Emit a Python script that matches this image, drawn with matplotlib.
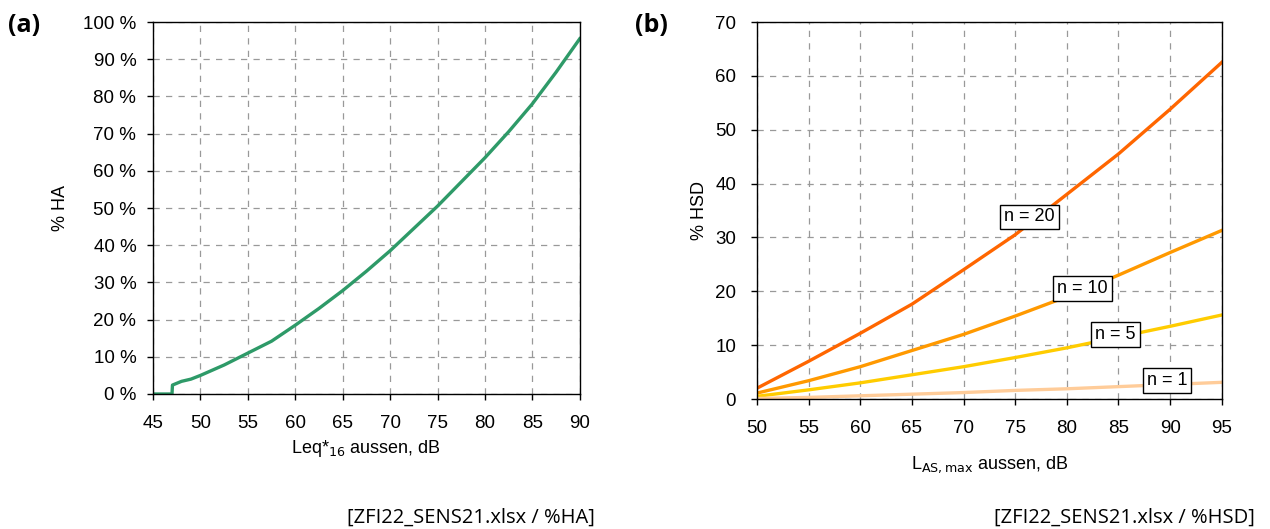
import matplotlib.pyplot as plt
from matplotlib.ticker import FuncFormatter

# (a) %HA vs Leq*16
leq = [45, 46, 47, 47.05, 48, 49, 50, 52.5, 55, 57.5, 60, 62.5, 65, 67.5, 70,
       72.5, 75, 77.5, 80, 82.5, 85, 87.5, 90]
ha = [0, 0, 0, 2.4, 3.4, 4.0, 5.0, 7.8, 11.0, 14.2, 18.5, 23.0, 27.8, 33.0, 38.5,
      44.5, 50.5, 57.0, 63.5, 70.5, 78.0, 86.5, 95.5]

# (b) %HSD vs LAS,max
lmax = [50, 55, 60, 65, 70, 75, 80, 85, 90, 95]
hsd_20 = [2.0, 7.0, 12.2, 17.6, 24.0, 30.5, 38.0, 45.5, 53.8, 62.5]
hsd_10 = [1.1, 3.4, 6.0, 9.0, 12.0, 15.4, 19.0, 23.0, 27.2, 31.3]
hsd_5 = [0.5, 1.7, 3.0, 4.5, 6.0, 7.7, 9.5, 11.5, 13.5, 15.6]
hsd_1 = [0.1, 0.3, 0.6, 0.9, 1.2, 1.6, 1.9, 2.3, 2.7, 3.1]
series_b = [hsd_20, hsd_10, hsd_5, hsd_1]
labels_b = ['n = 20', 'n = 10', 'n = 5', 'n = 1']
colors_b = ['#ff6600', '#ff9900', '#ffcc00', '#ffcc99']
label_pos = [(76.4, 33.8), (81.5, 20.6), (84.7, 11.9), (89.7, 3.5)]

plt.rcParams['font.family'] = ['Liberation Sans', 'DejaVu Sans']
fig = plt.figure(figsize=(12.7, 5.29), dpi=100)

def style_axes(ax, ypad):
    ax.grid(True, linestyle=(0, (5, 5)), color='#999999', linewidth=0.9)
    ax.set_axisbelow(True)
    ax.tick_params(direction='out', length=4, labelsize=13.5, width=1)
    ax.tick_params(axis='x', pad=11)
    ax.tick_params(axis='y', pad=ypad)
    for s in ax.spines.values():
        s.set_linewidth(1.0)

# panel (a)
ax1 = fig.add_axes([0.1205, 0.2552, 0.336, 0.7032])
ax1.plot(leq, ha, color='#2e9a68', linewidth=2.4)
ax1.set_xlim(45, 90)
ax1.set_ylim(0, 100)
ax1.set_xticks(range(45, 91, 5))
ax1.set_yticks(range(0, 101, 10))
ax1.yaxis.set_major_formatter(FuncFormatter(lambda v, p: f'{int(v)} %'))
style_axes(ax1, 8)
ax1.set_xlabel('Leq*$_{16}$ aussen, dB', fontsize=13, va='center')
ax1.xaxis.set_label_coords(0.5, -0.146)
ax1.set_ylabel('% HA', fontsize=13, va='center')
ax1.yaxis.set_label_coords(-0.218, 0.5)

# panel (b)
ax2 = fig.add_axes([0.596, 0.2457, 0.366, 0.7127])
for y, c in zip(series_b, colors_b):
    ax2.plot(lmax, y, color=c, linewidth=2.4)
for (x, y), t in zip(label_pos, labels_b):
    ax2.text(x, y, t, fontsize=13, ha='center', va='center',
             bbox=dict(boxstyle='square,pad=0.22', facecolor='white',
                       edgecolor='black', linewidth=1))
ax2.set_xlim(50, 95)
ax2.set_ylim(0, 70)
ax2.set_xticks(range(50, 96, 5))
ax2.set_yticks(range(0, 71, 10))
style_axes(ax2, 11)
ax2.set_xlabel('L$_{\\mathrm{AS,max}}$ aussen, dB', fontsize=13, va='center')
ax2.xaxis.set_label_coords(0.5, -0.175)
ax2.set_ylabel('% HSD', fontsize=13, va='center')
ax2.yaxis.set_label_coords(-0.1226, 0.5)

# panel letters and source notes
fig.text(0.006, 0.951, '(a)', fontsize=18, fontweight='bold', family='Open Sans', va='center')
fig.text(0.500, 0.951, '(b)', fontsize=18, fontweight='bold', family='Open Sans', va='center')
fig.text(0.273, 0.021, '[ZFI22_SENS21.xlsx / %HA]', fontsize=14.5, family='Open Sans',
         va='center')
fig.text(0.988, 0.021, '[ZFI22_SENS21.xlsx / %HSD]', fontsize=14.5, family='Open Sans',
         va='center', ha='right')

fig.savefig('out.png', dpi=100)
